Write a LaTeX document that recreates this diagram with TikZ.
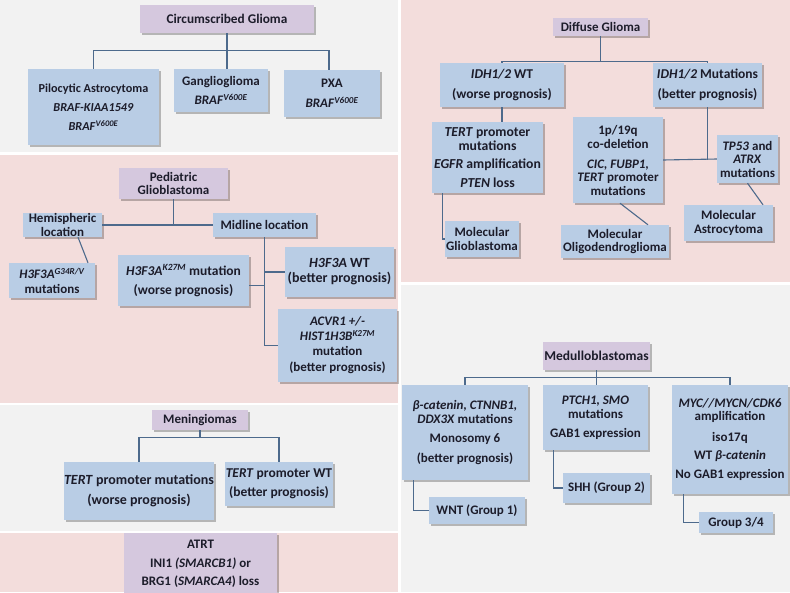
\documentclass[tikz,border=0pt]{standalone}
\usepackage{fontspec}
\setmainfont{Carlito}
\usetikzlibrary{shadows}
\definecolor{boxblue}{HTML}{B9CDE5}
\definecolor{boxpurple}{HTML}{D5C8DE}
\definecolor{panelpink}{HTML}{F3DDDC}
\definecolor{panelgray}{HTML}{F2F2F2}
\definecolor{lncol}{HTML}{4D6A8C}
\definecolor{txtcol}{HTML}{1C1C2A}
\newcommand\sups[1]{\textsuperscript{\itshape #1}}
\tikzset{
  bx/.style={fill=boxblue, inner sep=0pt, align=center, text=txtcol,
    font=\bfseries\fontsize{13}{13.5}\selectfont,
    drop shadow={shadow xshift=1.5pt, shadow yshift=-1.5pt, fill=black, opacity=0.25}},
  px/.style={bx, fill=boxpurple},
  ln/.style={draw=lncol, line width=1.1pt},
  fs/.style={font=\bfseries\fontsize{#1}{#1}\selectfont},
}
\begin{document}
\begin{tikzpicture}[x=1pt,y=-1pt]
\path[use as bounding box, fill=white] (0,0) rectangle (790,592);
% panels
\fill[panelgray] (0,0) rectangle (398,152);
\fill[panelpink] (0,155) rectangle (398,403);
\fill[panelgray] (0,405) rectangle (398,531);
\fill[panelpink] (0,533) rectangle (398,592);
\fill[panelpink] (401,0) rectangle (790,282);
\fill[panelgray] (401,285) rectangle (790,592);

% ---------- Circumscribed glioma
\node[px, fs=13.3, minimum width=174pt, minimum height=28pt] (cg) at (227,19) {Circumscribed Glioma};
\node[bx, fs=12.2, minimum width=131pt, minimum height=76pt] (pilo) at (93.5,107) {Pilocytic Astrocytoma\\[7pt]\textit{BRAF-KIAA1549}\\[7pt]\textit{BRAF}\sups{V600E}};
\node[bx, minimum width=94pt, minimum height=43pt] (gang) at (221,90.5) {Ganglioglioma\\[6pt]\textit{BRAF}\sups{V600E}};
\node[bx, minimum width=96pt, minimum height=47pt] (pxa) at (332,93.5) {PXA\\[6pt]\textit{BRAF}\sups{V600E}};
\draw[ln] (cg.south) -- ++(0,17) coordinate (cgb);
\draw[ln] (cgb) -| (pilo.north);
\draw[ln] (cgb) -| ([xshift=-3pt]pxa.north);
\draw[ln] (cgb) -- (cgb |- gang.north);

% ---------- Pediatric glioblastoma
\node[px, minimum width=109pt, minimum height=31pt] (pgbm) at (173.5,183.5) {Pediatric\\Glioblastoma};
\node[bx, minimum width=79pt, minimum height=24pt] (hemi) at (62.5,225) {Hemispheric\\location};
\node[bx, minimum width=103pt, minimum height=24pt] (mid) at (264.5,225) {Midline location};
\node[bx, minimum width=86pt, minimum height=35pt] (g34) at (52,280.5) {\textit{H3F3A}\sups{G34R/V}\\[1pt]mutations};
\node[bx, fs=13.5, minimum width=131pt, minimum height=51pt] (k27) at (183.5,280.5) {\textit{H3F3A}\sups{K27M} mutation\\[5pt](worse prognosis)};
\node[bx, fs=14, minimum width=109pt, minimum height=50pt] (h3wt) at (339.5,272) {\textit{H3F3A} WT\\[1pt](better prognosis)};
\node[bx, minimum width=119pt, minimum height=73pt] (acvr) at (337.5,345.5) {\textit{ACVR1 +/-}\\[1.5pt]\textit{HIST1H3B}\sups{K27M}\\[1pt]mutation\\[3pt](better prognosis)};
\draw[ln] (hemi.east) -- (mid.west);
\draw[ln] (pgbm.south) -- (pgbm.south |- hemi.east);
\draw[ln] ([xshift=15.5pt]hemi.south) -- ([xshift=36pt]g34.north);
\draw[ln] (mid.south) |- (acvr.west);
\draw[ln] ([yshift=-5pt]k27.east) -- ([yshift=-5pt]k27.east -| mid.south);
\draw[ln] (h3wt.west) -- (h3wt.west -| mid.south);

% ---------- Meningiomas
\node[px, minimum width=96pt, minimum height=20pt] (men) at (200,420) {Meningiomas};
\node[bx, fs=14, minimum width=150pt, minimum height=58pt] (tm) at (139,491) {\textit{TERT} promoter mutations\\[6pt](worse prognosis)};
\node[bx, fs=13.5, minimum width=108pt, minimum height=44pt] (twt) at (279,484) {\textit{TERT} promoter WT\\[5pt](better prognosis)};
\draw[ln] (men.south) -- ++(0,7) coordinate (menb);
\draw[ln] (menb) -| (tm.north);
\draw[ln] (menb) -| (twt.north);

% ---------- ATRT
\node[px, minimum width=153pt, minimum height=62pt] (atrt) at (200.5,564) {ATRT\\[5pt]INI1 \textit{(SMARCB1)} or\\[5pt]BRG1 (\textit{SMARCA4}) loss};

% ---------- Diffuse glioma
\node[px, minimum width=95pt, minimum height=18pt] (dg) at (600.5,27) {Diffuse Glioma};
\node[bx, fs=13.5, minimum width=124pt, minimum height=44pt] (wt) at (502,85) {\textit{IDH1/2} WT\\[6pt](worse prognosis)};
\node[bx, fs=13.5, minimum width=109pt, minimum height=44pt] (mut) at (707.5,85) {\textit{IDH1/2} Mutations\\[6pt](better prognosis)};
\node[bx, fs=13.7, minimum width=111pt, minimum height=71pt] (tert) at (487.5,157.5) {\textit{TERT} promoter\\mutations\\[5pt]\textit{EGFR} amplification\\[5pt]\textit{PTEN} loss};
\node[bx, minimum width=74pt, minimum height=36pt] (molgbm) at (482,239) {Molecular\\Glioblastoma};
\node[bx, minimum width=90pt, minimum height=86pt] (codel) at (618,160) {1p/19q\\[1pt]co-deletion\\[6pt]\textit{CIC, FUBP1,}\\\textit{TERT} promoter\\mutations};
\node[bx, minimum width=61pt, minimum height=48pt] (tp53) at (747.5,159) {\textit{TP53} and\\\textit{ATRX}\\mutations};
\node[bx, minimum width=108pt, minimum height=33pt] (molo) at (615,241.5) {Molecular\\Oligodendroglioma};
\node[bx, minimum width=89pt, minimum height=36pt] (mola) at (728.5,223) {Molecular\\Astrocytoma};
\draw[ln] (dg.south) -- ++(0,25) coordinate (dgb);
\draw[ln] (dgb) -| (wt.north);
\draw[ln] (dgb) -| (mut.north);
\draw[ln] (wt.south) -- (wt.south |- tert.north);
\draw[ln] ([xshift=11pt]tert.south west) |- (molgbm.west);
\draw[ln] (codel.east) -- (tp53.west);
\draw[ln] (mut.south) -- (mut.south |- codel.east);
\draw[ln] ([xshift=2pt]codel.south) -- ([xshift=33pt]molo.north);
\draw[ln] (tp53.south) -- ([xshift=34.5pt]mola.north);

% ---------- Medulloblastomas
\node[px, fs=13.5, minimum width=107pt, minimum height=28pt] (med) at (596.5,356) {Medulloblastomas};
\node[bx, minimum width=126pt, minimum height=95pt] (bcat) at (465,432.5) {\textit{β-catenin, CTNNB1,}\\\textit{DDX3X} mutations\\[6pt]Monosomy 6\\[6pt](better prognosis)};
\node[bx, minimum width=105pt, minimum height=65pt] (ptch) at (595.5,417.5) {\textit{PTCH1, SMO}\\[1pt]mutations\\[5pt]GAB1 expression};
\node[bx, minimum width=116pt, minimum height=109pt] (myc) at (730,439.5) {\textit{MYC//MYCN/CDK6}\\amplification\\[7pt]iso17q\\[5pt]WT \textit{β-catenin}\\[5pt]No GAB1 expression};
\node[bx, minimum width=96pt, minimum height=27pt] (wnt) at (477,510.5) {WNT (Group 1)};
\node[bx, minimum width=87pt, minimum height=30pt] (shh) at (606.5,488) {SHH (Group 2)};
\node[bx, minimum width=74pt, minimum height=21pt] (g34b) at (736,522.5) {Group 3/4};
\draw[ln] (med.south) -- ++(0,7) coordinate (medb);
\draw[ln] (medb) -| (bcat.north);
\draw[ln] (medb) -| (myc.north);
\draw[ln] (medb) -- (medb |- ptch.north);
\draw[ln] ([xshift=12pt]bcat.south west) |- (wnt.west);
\draw[ln] ([xshift=11pt]ptch.south west) |- (shh.west);
\draw[ln] ([xshift=12pt]myc.south west) |- (g34b.west);
\end{tikzpicture}
\end{document}
